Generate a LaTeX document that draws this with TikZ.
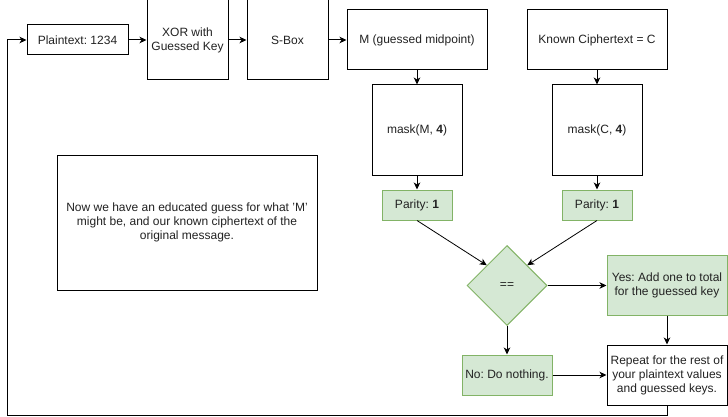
\documentclass[tikz,border=0pt]{standalone}
\usepackage{fontspec}
\setmainfont{Liberation Sans}
\usetikzlibrary{shapes.geometric,arrows.meta,calc}
\definecolor{gfill}{HTML}{D5E8D4}
\definecolor{gline}{HTML}{82B366}
\definecolor{txt}{HTML}{222222}
\tikzset{
  base/.style={draw=black, line width=1pt, rectangle, inner sep=0pt, align=center, text=txt,
    font=\fontsize{12}{14}\selectfont},
  whitebox/.style={base, fill=white},
  greenbox/.style={base, draw=gline, fill=gfill},
  arr/.style={line width=1pt, draw=black, -{Stealth[length=7pt,width=6.5pt,inset=2pt]}},
  thinarr/.style={line width=0.8pt, draw=black, -{Stealth[length=7pt,width=6.5pt,inset=2pt]}},
}
\frenchspacing
\begin{document}
\frenchspacing
\begin{tikzpicture}[x=1pt,y=-1pt]
\useasboundingbox (0,0) rectangle (728,417);
\node[whitebox, minimum width=101pt, minimum height=30pt] (pt) at (77.5,40) {Plaintext: 1234};
\node[whitebox, minimum width=81pt, minimum height=80pt] (xor) at (187.5,40) {XOR with\\Guessed Key};
\node[whitebox, minimum width=81pt, minimum height=80pt] (sbox) at (287.5,40) {S-Box};
\node[whitebox, minimum width=140pt, minimum height=60pt] (m) at (417,40) {M (guessed midpoint)};
\node[whitebox, minimum width=140pt, minimum height=60pt] (c) at (597,40) {Known Ciphertext = C};
\node[whitebox, minimum width=90pt, minimum height=90pt] (maskm) at (417,130) {mask(M, \textbf{4})};
\node[whitebox, minimum width=90pt, minimum height=90pt] (maskc) at (597,130) {mask(C, \textbf{4})};
\node[greenbox, minimum width=70pt, minimum height=30pt] (parm) at (417,205) {Parity: \textbf{1}};
\node[greenbox, minimum width=70pt, minimum height=30pt] (parc) at (597,205) {Parity: \textbf{1}};
\node[greenbox, shape=diamond, minimum width=80pt, minimum height=80pt, shape aspect=1] (eq) at (507,285.5) {==};
\node[greenbox, minimum width=120pt, minimum height=60pt] (yes) at (667,285) {Yes: Add one to total\\for the guessed key};
\node[greenbox, minimum width=90pt, minimum height=40pt] (no) at (507,375) {No: Do nothing.};
\node[whitebox, minimum width=120pt, minimum height=60pt] (rep) at (667,375) {Repeat for the rest of\\your plaintext values\\and guessed keys.};
\node[whitebox, minimum width=260pt, minimum height=135pt] (note) at (187,222.5) {Now we have an educated guess for what {\char"27}M{\char"27}\\might be, and our known ciphertext of the\\original message.};
\coordinate (lb) at (7.5,415);
\draw[arr] (pt) -- (xor);
\draw[arr] (xor) -- (sbox);
\draw[arr] (sbox.east) -- (sbox.east -| m.west);
\draw[arr] (m) -- (maskm);
\draw[arr] (c) -- (maskc);
\draw[arr] (maskm) -- (parm);
\draw[arr] (maskc) -- (parc);
\draw[thinarr] (parm.south) -- ($(eq.north)!0.5!(eq.west)$);
\draw[thinarr] (parc.south) -- ($(eq.north)!0.5!(eq.east)$);
\draw[arr] (eq.east) -- (yes.west |- eq.east);
\draw[arr] (eq) -- (no);
\draw[arr] (yes) -- (rep);
\draw[arr] (no) -- (rep);
\draw[arr] (rep.south) |- (lb) |- (pt.west);
\end{tikzpicture}
\end{document}
